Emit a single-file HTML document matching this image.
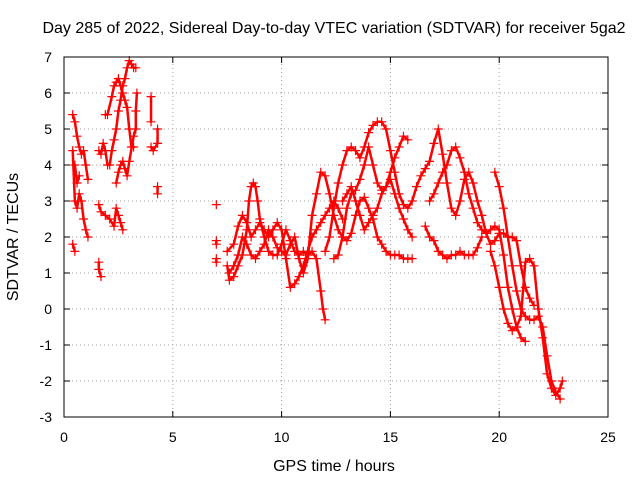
<!DOCTYPE html>
<html><head><meta charset="utf-8"><style>
body{margin:0;background:#fff;}
svg text{font-family:"Liberation Sans",sans-serif;font-size:14px;fill:#000;}
svg text.big{font-size:16px;}
</style></head><body>
<svg id="chart" width="640" height="480" viewBox="0 0 640 480">
<text class="big" x="334" y="33" text-anchor="middle">Day 285 of 2022, Sidereal Day-to-day VTEC variation (SDTVAR) for receiver 5ga2</text>
<text class="big" x="334" y="471" text-anchor="middle">GPS time / hours</text>
<text class="big" transform="translate(18,237) rotate(-90)" text-anchor="middle">SDTVAR / TECUs</text>
<g id="grid"></g><g id="axes"></g><g id="marks"></g>
<rect x="64" y="57" width="544" height="360" fill="none" stroke="#000" stroke-width="1"/>
</svg>
<script>
const xTicks=[0,5,10,15,20,25];
const yTicks=[-3,-2,-1,0,1,2,3,4,5,6,7];
const trackEarly1=[[0.4,5.4],[0.5,5.2],[0.6,4.8],[0.7,4.5],[0.8,4.3],[0.9,4.4],[1.0,4.0],[1.1,3.6]];
const trackEarly2=[[0.4,4.4],[0.5,3.0],[0.6,2.8],[0.7,3.2],[0.8,3.0],[0.9,2.5],[1.0,2.2],[1.1,2.0]];
const trackEarly3=[[0.4,1.8],[0.5,1.6]];
const trackEarly4=[[0.5,4.0],[0.6,3.5],[0.7,3.7]];
const trackEarly5=[[1.6,1.3],[1.6,1.1],[1.7,0.9]];
const trackEarly6=[[1.6,2.9],[1.7,2.7],[1.9,2.6],[2.1,2.5],[2.3,2.3],[2.4,2.8],[2.5,2.6],[2.6,2.4],[2.7,2.2]];
const trackEarly7=[[1.6,4.4],[1.7,4.3],[1.8,4.6],[1.9,4.4],[2.0,4.0],[2.1,4.0],[2.2,4.4],[2.3,4.7],[2.4,5.0],[2.5,5.5],[2.6,5.8],[2.7,6.2],[2.8,6.4],[2.9,6.7],[3.0,6.9],[3.1,6.8],[3.2,6.7],[3.3,6.7]];
const trackEarly8=[[1.9,5.4],[2.0,5.4],[2.2,5.9],[2.3,6.2],[2.4,6.3],[2.5,6.4],[2.6,6.2],[2.7,6.0],[2.8,5.8],[2.9,5.6],[3.0,5.0],[3.1,4.5],[3.2,4.5]];
const trackEarly9=[[2.4,3.5],[2.5,3.8],[2.6,4.0],[2.7,4.1],[2.8,3.9],[2.9,3.7],[3.0,4.1],[3.2,4.8],[3.3,5.0],[3.3,5.5],[3.35,6.0]];
const trackEarly10=[[4.0,5.9],[4.0,5.2]];
const trackEarly11=[[4.0,4.5],[4.1,4.4],[4.3,4.6],[4.3,5.0]];
const trackEarly12=[[4.3,3.4],[4.3,3.2]];
const trackMid0=[[7.0,2.9]];
const trackMid0b=[[7.0,1.9],[7.0,1.8]];
const trackMid0c=[[7.0,1.3],[7.0,1.4]];
const trackMid1=[[7.5,1.2],[7.6,0.8],[7.8,0.9],[8.0,1.2],[8.2,1.5],[8.4,2.2],[8.5,3.0],[8.6,3.4],[8.7,3.5],[8.8,3.4],[8.9,3.0],[9.0,2.5],[9.2,2.0],[9.4,1.6],[9.6,1.5],[9.8,1.5],[10.0,1.8],[10.2,2.2],[10.4,1.9],[10.6,1.6],[10.8,1.5],[11.0,1.6],[11.2,1.5],[11.4,1.6],[11.6,1.4],[11.8,0.5],[11.9,0],[12.0,-0.3]];
const trackMid2=[[7.5,1.6],[7.8,1.8],[8.0,2.3],[8.2,2.6],[8.4,2.4],[8.6,2.0],[8.8,2.2],[9.0,2.4],[9.2,2.2],[9.4,2.0],[9.6,2.2],[9.8,2.4],[10.0,2.2],[10.2,1.4],[10.4,0.6],[10.6,0.7],[10.8,0.9],[11.0,1.2],[11.2,1.6],[11.4,2.0],[11.6,2.2],[11.8,2.4],[12.0,2.6],[12.2,2.8],[12.4,3.0],[12.6,2.8],[12.8,2.5]];
const trackMid3=[[7.6,1.0],[7.8,1.2],[8.0,1.5],[8.2,2.0],[8.4,1.8],[8.6,1.5],[8.8,1.4],[9.0,1.6],[9.2,1.8],[9.4,2.2],[9.6,2.0],[9.8,1.7],[10.0,1.6],[10.2,1.5],[10.4,1.8],[10.6,2.0],[10.8,1.4],[11.0,1.0],[11.2,1.4],[11.4,2.6],[11.6,3.2],[11.8,3.8],[12.0,3.7],[12.2,3.2],[12.4,2.6],[12.6,2.2],[12.8,2.0],[13.0,1.9],[13.2,2.1],[13.4,2.6],[13.6,3.0],[13.8,3.1],[14.0,2.8],[14.2,2.5],[14.4,2.0],[14.6,1.8],[14.8,1.6],[15.0,1.5],[15.2,1.5],[15.4,1.5],[15.6,1.4],[15.8,1.4],[16.0,1.4]];
const trackMid4=[[12.0,1.6],[12.2,2.0],[12.4,2.8],[12.6,3.5],[12.8,4.0],[13.0,4.4],[13.2,4.5],[13.4,4.4],[13.6,4.2],[13.8,4.5],[14.0,4.9],[14.2,5.1],[14.4,5.2],[14.6,5.2],[14.8,5.0],[15.0,4.4],[15.2,3.8],[15.4,3.2],[15.6,2.9],[15.8,2.8],[16.0,3.0],[16.2,3.4],[16.4,3.7],[16.6,3.9],[16.8,4.1],[17.0,4.6],[17.2,5.0],[17.4,4.3],[17.6,3.5],[17.8,2.8],[18.0,2.6],[18.2,3.0],[18.4,3.6],[18.6,3.8],[18.8,3.5],[19.0,3.0],[19.2,2.6],[19.4,2.1],[19.6,1.8],[19.8,1.9],[20.0,2.1],[20.2,2.1],[20.4,2.0],[20.6,2.0],[20.8,1.9],[21.0,1.2],[21.2,0.6],[21.4,0.3],[21.6,0.1]];
const trackMid5=[[12.4,1.4],[12.6,1.5],[12.8,2.0],[13.0,2.8],[13.2,3.2],[13.4,3.3],[13.6,3.6],[13.8,4.0],[14.0,4.5],[14.2,4.0],[14.4,3.5],[14.6,3.3],[14.8,3.4],[15.0,3.8],[15.2,4.2],[15.4,4.5],[15.6,4.8],[15.8,4.7]];
const trackMid6=[[12.8,3.0],[13.0,3.2],[13.2,3.4],[13.4,3.0],[13.6,2.6],[13.8,2.2],[14.0,2.4],[14.2,2.6],[14.4,2.8],[14.6,3.2],[14.8,3.4],[15.0,3.6],[15.2,3.2],[15.4,2.8],[15.6,2.5],[15.8,2.2],[16.0,2.0]];
const trackLate1=[[16.6,2.3],[16.8,2.0],[17.0,1.9],[17.2,1.6],[17.4,1.5],[17.6,1.4],[17.8,1.5],[18.0,1.5],[18.2,1.6],[18.4,1.5],[18.6,1.5],[18.8,1.5],[19.0,1.7],[19.2,2.0]];
const trackLate2=[[16.8,3.0],[17.0,3.2],[17.2,3.5],[17.4,3.8],[17.6,4.0],[17.8,4.4],[18.0,4.5],[18.2,4.2],[18.4,3.8],[18.6,3.2],[18.8,2.8],[19.0,2.4],[19.2,2.2],[19.4,2.1],[19.6,2.2],[19.8,2.3],[20.0,2.2],[20.2,1.5],[20.4,0.6],[20.6,0.0],[20.8,-0.5],[21.0,-0.8],[21.2,-0.9]];
const trackLate3=[[19.8,3.8],[20.0,3.4],[20.2,2.8],[20.4,2.0],[20.6,1.2],[20.8,0.5],[21.0,0.0],[21.2,-0.2],[21.4,-0.3],[21.6,-0.3],[21.8,-0.2],[22.0,-0.5],[22.2,-1.3],[22.4,-2.0],[22.6,-2.3],[22.8,-2.5]];
const trackLate4=[[19.6,1.6],[19.8,1.2],[20.0,0.6],[20.2,0.0],[20.4,-0.4],[20.6,-0.6],[20.8,-0.5],[21.0,-0.2],[21.2,1.3],[21.4,1.4],[21.6,1.2],[21.8,0.0],[22.0,-0.8],[22.2,-1.8],[22.4,-2.2],[22.6,-2.4],[22.8,-2.2],[22.9,-2.0]];
const tracks=[trackEarly1,trackEarly2,trackEarly3,trackEarly4,trackEarly5,trackEarly6,trackEarly7,trackEarly8,trackEarly9,trackEarly10,trackEarly11,trackEarly12,trackMid0,trackMid0b,trackMid0c,trackMid1,trackMid2,trackMid3,trackMid4,trackMid5,trackMid6,trackLate1,trackLate2,trackLate3,trackLate4];

const NS='http://www.w3.org/2000/svg';
const X0=64,X1=608,Y0=417,Y1=57,xMin=0,xMax=25,yMin=-3,yMax=7;
function sx(v){return X0+(v-xMin)/(xMax-xMin)*(X1-X0);}
function sy(v){return Y0-(v-yMin)/(yMax-yMin)*(Y0-Y1);}
function mk(tag,attrs,parent){const e=document.createElementNS(NS,tag);for(const k in attrs)e.setAttribute(k,attrs[k]);parent.appendChild(e);return e;}
const grid=document.getElementById('grid'),axes=document.getElementById('axes'),marks=document.getElementById('marks');
xTicks.forEach(t=>{
  const x=sx(t);
  if(t>xMin&&t<xMax){const g=mk('line',{x1:x,x2:x,y1:Y0,y2:Y1,stroke:'#a0a0a0','stroke-dasharray':'1,3'},grid);
  
  }
  mk('line',{x1:x,x2:x,y1:Y0,y2:Y0-6,stroke:'#000'},axes);
  mk('line',{x1:x,x2:x,y1:Y1,y2:Y1+6,stroke:'#000'},axes);
  const tx=mk('text',{x:x,y:442,'text-anchor':'middle'},axes);tx.textContent=t;
  
  
});
yTicks.forEach(t=>{
  const y=sy(t);
  if(t>yMin&&t<yMax){const g=mk('line',{x1:X0,x2:X1,y1:y,y2:y,stroke:'#a0a0a0','stroke-dasharray':'1,3'},grid);
  
  }
  mk('line',{x1:X0,x2:X0+6,y1:y,y2:y,stroke:'#000'},axes);
  mk('line',{x1:X1,x2:X1-6,y1:y,y2:y,stroke:'#000'},axes);
  const tx=mk('text',{x:52,y:y+5,'text-anchor':'end'},axes);tx.textContent=t;
  
  
});
tracks.forEach(tr=>{
  const pl=mk('polyline',{points:tr.map(p=>sx(p[0])+','+sy(p[1])).join(' '),fill:'none',stroke:'#ff0000','stroke-width':2.5,'stroke-linejoin':'round','stroke-linecap':'round'},marks);
  
  
  tr.forEach(p=>{
    const x=sx(p[0]),y=sy(p[1]);
    const m=mk('path',{d:`M${x-4.5},${y}H${x+4.5}M${x},${y-4.5}V${y+4.5}`,stroke:'#ff0000','stroke-width':1.2},marks);
    
    
  });
});
</script>
</body></html>
